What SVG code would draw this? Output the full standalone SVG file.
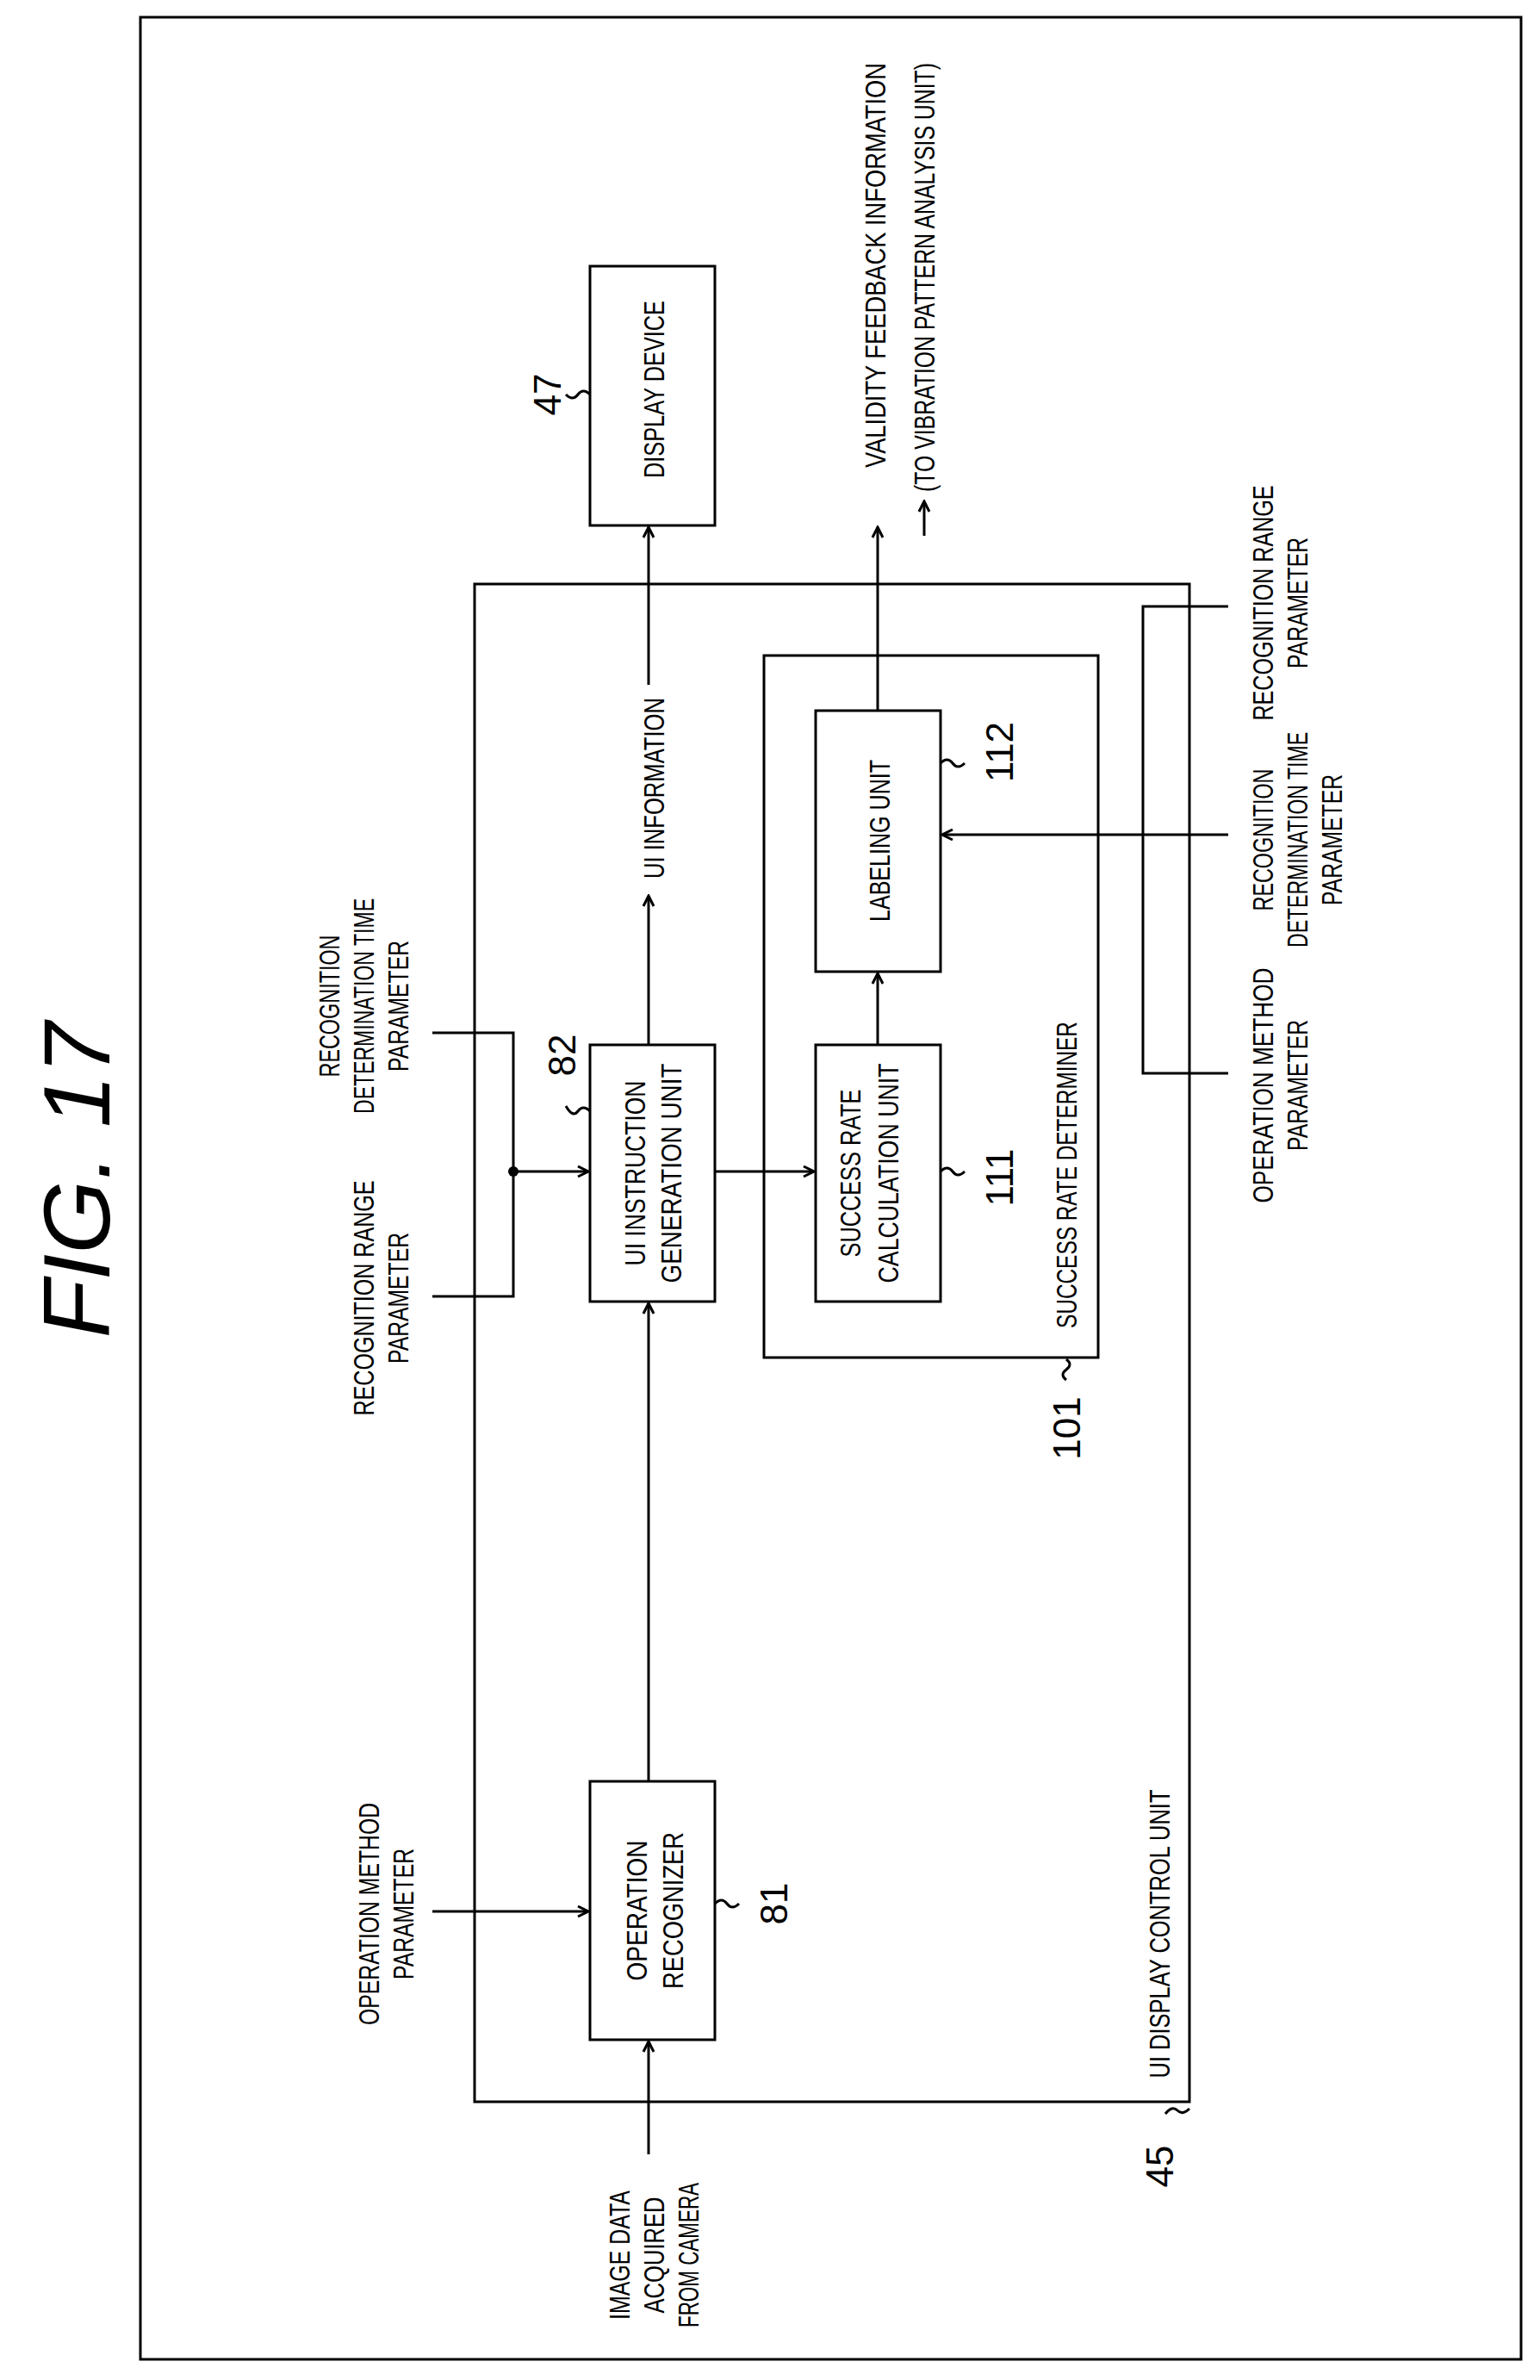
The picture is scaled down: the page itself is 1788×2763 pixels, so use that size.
<svg xmlns="http://www.w3.org/2000/svg" width="1788" height="2763" viewBox="0 0 1788 2763">
<style>
.b{fill:none;stroke:#000;stroke-width:3}
.l{fill:none;stroke:#000;stroke-width:3}
.t{font-family:"Liberation Sans",Arial,sans-serif;font-size:34px;fill:#000}
.n{font-family:"Liberation Sans",Arial,sans-serif;font-size:44px;fill:#000}
</style>
<defs>
<marker id="a" markerWidth="16" markerHeight="16" refX="14" refY="8" orient="auto" markerUnits="userSpaceOnUse">
<path d="M2,2 L14,8 L2,14" fill="none" stroke="#000" stroke-width="3"/>
</marker>
</defs>
<rect width="1788" height="2763" fill="#fff"/>
<rect x="163" y="20" width="1603" height="2719" class="b"/>
<text class="t" style="font-size:110px;font-style:italic" transform="translate(88,1370) rotate(-90)" text-anchor="middle" dominant-baseline="central">FIG. 17</text>

<g id="n45"><rect x="551" y="678" width="830" height="1762" class="b"/>
<text class="t" transform="translate(1346,2245) rotate(-90)" text-anchor="middle" dominant-baseline="central" textLength="335" lengthAdjust="spacingAndGlyphs">UI DISPLAY CONTROL UNIT</text>
<path class="l" d="M1381,2448 q-8,8 -14,2 t-14,4"/><text class="n" transform="translate(1346,2515) rotate(-90)" text-anchor="middle" dominant-baseline="central">45</text></g>

<g id="n47"><rect x="685" y="309" width="145" height="301" class="b"/>
<text class="t" transform="translate(759,452) rotate(-90)" text-anchor="middle" dominant-baseline="central" textLength="206" lengthAdjust="spacingAndGlyphs">DISPLAY DEVICE</text>
<path class="l" d="M685,458 q-8,-8 -14,0 t-14,0"/><text class="n" transform="translate(635,458) rotate(-90)" text-anchor="middle" dominant-baseline="central">47</text></g>

<g id="n101"><rect x="887" y="761" width="388" height="815" class="b"/>
<text class="t" transform="translate(1238,1364) rotate(-90)" text-anchor="middle" dominant-baseline="central" textLength="356" lengthAdjust="spacingAndGlyphs">SUCCESS RATE DETERMINER</text>
<path class="l" d="M1238,1578 q8,6 0,12 t0,12"/><text class="n" transform="translate(1238,1658) rotate(-90)" text-anchor="middle" dominant-baseline="central">101</text></g>

<g id="n112"><rect x="947" y="825" width="145" height="303" class="b"/>
<text class="t" transform="translate(1021,976) rotate(-90)" text-anchor="middle" dominant-baseline="central" textLength="188" lengthAdjust="spacingAndGlyphs">LABELING UNIT</text>
<path class="l" d="M1092,886 q8,-8 14,0 t14,0"/><text class="n" transform="translate(1160,873) rotate(-90)" text-anchor="middle" dominant-baseline="central">112</text></g>

<g id="n111"><rect x="947" y="1213" width="145" height="298" class="b"/>
<text class="t" transform="translate(987,1362) rotate(-90)" text-anchor="middle" dominant-baseline="central" textLength="195" lengthAdjust="spacingAndGlyphs">SUCCESS RATE</text>
<text class="t" transform="translate(1031,1362) rotate(-90)" text-anchor="middle" dominant-baseline="central" textLength="255" lengthAdjust="spacingAndGlyphs">CALCULATION UNIT</text>
<path class="l" d="M1092,1360 q8,-8 14,0 t14,0"/><text class="n" transform="translate(1160,1367) rotate(-90)" text-anchor="middle" dominant-baseline="central">111</text></g>

<g id="n82"><rect x="685" y="1213" width="145" height="298" class="b"/>
<text class="t" transform="translate(737,1362) rotate(-90)" text-anchor="middle" dominant-baseline="central" textLength="215" lengthAdjust="spacingAndGlyphs">UI INSTRUCTION</text>
<text class="t" transform="translate(779,1362) rotate(-90)" text-anchor="middle" dominant-baseline="central" textLength="255" lengthAdjust="spacingAndGlyphs">GENERATION UNIT</text>
<path class="l" d="M685,1290 q-8,-8 -14,0 t-14,-6"/><text class="n" transform="translate(652,1225) rotate(-90)" text-anchor="middle" dominant-baseline="central">82</text></g>

<g id="n81"><rect x="685" y="2068" width="145" height="300" class="b"/>
<text class="t" transform="translate(739,2218) rotate(-90)" text-anchor="middle" dominant-baseline="central" textLength="163" lengthAdjust="spacingAndGlyphs">OPERATION</text>
<text class="t" transform="translate(781,2218) rotate(-90)" text-anchor="middle" dominant-baseline="central" textLength="182" lengthAdjust="spacingAndGlyphs">RECOGNIZER</text>
<path class="l" d="M830,2210 q8,-8 14,0 t14,0"/><text class="n" transform="translate(898,2210) rotate(-90)" text-anchor="middle" dominant-baseline="central">81</text></g>

<g id="labels">
<text class="t" transform="translate(759,915) rotate(-90)" text-anchor="middle" dominant-baseline="central" textLength="210" lengthAdjust="spacingAndGlyphs">UI INFORMATION</text>
<text class="t" transform="translate(1016,308) rotate(-90)" text-anchor="middle" dominant-baseline="central" textLength="470" lengthAdjust="spacingAndGlyphs">VALIDITY FEEDBACK INFORMATION</text>
<text class="t" transform="translate(1073,322) rotate(-90)" text-anchor="middle" dominant-baseline="central" textLength="498" lengthAdjust="spacingAndGlyphs">(TO VIBRATION PATTERN ANALYSIS UNIT)</text>
<text class="t" transform="translate(1466,700) rotate(-90)" text-anchor="middle" dominant-baseline="central" textLength="273" lengthAdjust="spacingAndGlyphs">RECOGNITION RANGE</text>
<text class="t" transform="translate(1506,700) rotate(-90)" text-anchor="middle" dominant-baseline="central" textLength="152" lengthAdjust="spacingAndGlyphs">PARAMETER</text>
<text class="t" transform="translate(1466,975) rotate(-90)" text-anchor="middle" dominant-baseline="central" textLength="165" lengthAdjust="spacingAndGlyphs">RECOGNITION</text>
<text class="t" transform="translate(1506,975) rotate(-90)" text-anchor="middle" dominant-baseline="central" textLength="250" lengthAdjust="spacingAndGlyphs">DETERMINATION TIME</text>
<text class="t" transform="translate(1546,975) rotate(-90)" text-anchor="middle" dominant-baseline="central" textLength="152" lengthAdjust="spacingAndGlyphs">PARAMETER</text>
<text class="t" transform="translate(1466,1260) rotate(-90)" text-anchor="middle" dominant-baseline="central" textLength="273" lengthAdjust="spacingAndGlyphs">OPERATION METHOD</text>
<text class="t" transform="translate(1506,1260) rotate(-90)" text-anchor="middle" dominant-baseline="central" textLength="152" lengthAdjust="spacingAndGlyphs">PARAMETER</text>
<text class="t" transform="translate(382,1168) rotate(-90)" text-anchor="middle" dominant-baseline="central" textLength="165" lengthAdjust="spacingAndGlyphs">RECOGNITION</text>
<text class="t" transform="translate(422,1168) rotate(-90)" text-anchor="middle" dominant-baseline="central" textLength="250" lengthAdjust="spacingAndGlyphs">DETERMINATION TIME</text>
<text class="t" transform="translate(462,1168) rotate(-90)" text-anchor="middle" dominant-baseline="central" textLength="152" lengthAdjust="spacingAndGlyphs">PARAMETER</text>
<text class="t" transform="translate(422,1507) rotate(-90)" text-anchor="middle" dominant-baseline="central" textLength="273" lengthAdjust="spacingAndGlyphs">RECOGNITION RANGE</text>
<text class="t" transform="translate(462,1507) rotate(-90)" text-anchor="middle" dominant-baseline="central" textLength="152" lengthAdjust="spacingAndGlyphs">PARAMETER</text>
<text class="t" transform="translate(428,2222) rotate(-90)" text-anchor="middle" dominant-baseline="central" textLength="258" lengthAdjust="spacingAndGlyphs">OPERATION METHOD</text>
<text class="t" transform="translate(468,2222) rotate(-90)" text-anchor="middle" dominant-baseline="central" textLength="152" lengthAdjust="spacingAndGlyphs">PARAMETER</text>
<text class="t" transform="translate(719,2618) rotate(-90)" text-anchor="middle" dominant-baseline="central" textLength="150" lengthAdjust="spacingAndGlyphs">IMAGE DATA</text>
<text class="t" transform="translate(759,2618) rotate(-90)" text-anchor="middle" dominant-baseline="central" textLength="135" lengthAdjust="spacingAndGlyphs">ACQUIRED</text>
<text class="t" transform="translate(799,2618) rotate(-90)" text-anchor="middle" dominant-baseline="central" textLength="168" lengthAdjust="spacingAndGlyphs">FROM CAMERA</text>
</g>

<g id="connectors">
<line class="l" x1="753" y1="1213" x2="753" y2="1040" marker-end="url(#a)"/>
<line class="l" x1="753" y1="795" x2="753" y2="612" marker-end="url(#a)"/>
<line class="l" x1="1019" y1="825" x2="1019" y2="612" marker-end="url(#a)"/>
<line class="l" x1="1073" y1="622" x2="1073" y2="582" marker-end="url(#a)"/>
<line class="l" x1="1019" y1="1213" x2="1019" y2="1130" marker-end="url(#a)"/>
<line class="l" x1="830" y1="1360" x2="945" y2="1360" marker-end="url(#a)"/>
<polyline class="l" points="502,1199 596,1199 596,1505 502,1505"/>
<circle cx="596" cy="1360" r="6" fill="#000"/>
<line class="l" x1="596" y1="1360" x2="683" y2="1360" marker-end="url(#a)"/>
<line class="l" x1="753" y1="2068" x2="753" y2="1513" marker-end="url(#a)"/>
<line class="l" x1="502" y1="2219" x2="683" y2="2219" marker-end="url(#a)"/>
<line class="l" x1="753" y1="2501" x2="753" y2="2370" marker-end="url(#a)"/>
<polyline class="l" points="1426,704 1327,704 1327,1246 1426,1246"/>
<line class="l" x1="1426" y1="969" x2="1094" y2="969" marker-end="url(#a)"/>
</g>
</svg>
